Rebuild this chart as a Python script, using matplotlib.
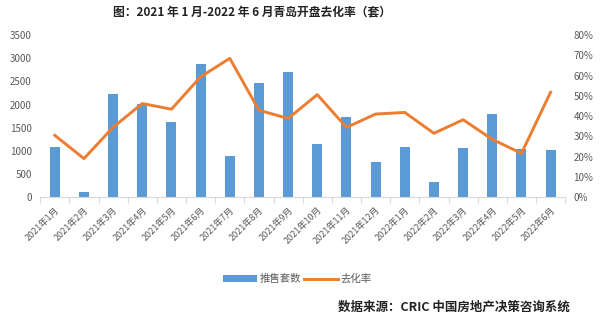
import matplotlib
matplotlib.use("Agg")
import matplotlib.pyplot as plt
import numpy as np
from matplotlib.ticker import FuncFormatter, MultipleLocator

plt.rcParams['font.family'] = ['Noto Sans CJK SC', 'DejaVu Sans']

months = ["2021年1月", "2021年2月", "2021年3月", "2021年4月", "2021年5月", "2021年6月",
          "2021年7月", "2021年8月", "2021年9月", "2021年10月", "2021年11月", "2021年12月",
          "2022年1月", "2022年2月", "2022年3月", "2022年4月", "2022年5月", "2022年6月"]
supply_units = [1080, 110, 2225, 2020, 1625, 2865, 880, 2455, 2700,
                1155, 1735, 760, 1075, 325, 1055, 1800, 1030, 1010]
absorption_rate = [30.5, 19.0, 34.5, 46.2, 43.4, 59.4, 68.5, 42.9, 38.8,
                   50.6, 34.4, 41.0, 41.8, 31.5, 38.2, 28.5, 21.6, 51.8]

bar_color = "#5B9BD5"
line_color = "#ED7D31"
tick_color = "#595959"

fig = plt.figure(figsize=(6.0, 3.22), dpi=100)
ax = fig.add_axes([0.067, 0.388, 0.875, 0.503])
ax2 = ax.twinx()

x = np.arange(len(months))
ax.bar(x, supply_units, width=0.34, color=bar_color, label="推售套数", zorder=2)
ax2.plot(x, absorption_rate, color=line_color, lw=2.1, label="去化率", zorder=3)

ax.set_xlim(-0.5, len(months) - 0.5)
ax.set_ylim(0, 3500)
ax.yaxis.set_major_locator(MultipleLocator(500))
ax2.set_ylim(0, 80)
ax2.yaxis.set_major_locator(MultipleLocator(10))
ax2.yaxis.set_major_formatter(FuncFormatter(lambda v, p: f"{int(v)}%"))

for a in (ax, ax2):
    for s in a.spines.values():
        s.set_visible(False)
ax.spines['bottom'].set_visible(True)
ax.spines['bottom'].set_color("#D9D9D9")

ax.tick_params(axis='y', length=0, labelsize=7, labelcolor=tick_color, pad=6)
ax2.tick_params(axis='y', length=0, labelsize=7, labelcolor=tick_color, pad=6)

# category boundary ticks along the bottom axis
ax.set_xticks(np.arange(-0.5, len(months), 1.0), minor=False)
ax.set_xticklabels([])
ax.tick_params(axis='x', which='major', length=4, color="#D9D9D9", direction='out')
ax.set_xticks(x, minor=True)
ax.set_xticklabels(months, minor=True, rotation=45, ha='right',
                   rotation_mode='anchor', fontsize=6.5, color=tick_color)
ax.tick_params(axis='x', which='minor', length=0, pad=6)

fig.text(0.42, 0.962, "图：2021 年 1 月-2022 年 6 月青岛开盘去化率（套）",
         ha='center', va='center', fontsize=8.5, fontweight='bold', color="#222222")

h1, l1 = ax.get_legend_handles_labels()
h2, l2 = ax2.get_legend_handles_labels()
fig.legend(h1 + h2, l1 + l2, loc='center', bbox_to_anchor=(0.496, 0.133),
           ncol=2, frameon=False, fontsize=7.5, handlelength=3.2,
           handletextpad=0.3, columnspacing=0.3, labelcolor=tick_color)

fig.text(0.95, 0.046, "数据来源：CRIC 中国房地产决策咨询系统",
         ha='right', va='center', fontsize=9, fontweight='bold', color="#222222")

fig.savefig("out.png", dpi=100, facecolor="white")
